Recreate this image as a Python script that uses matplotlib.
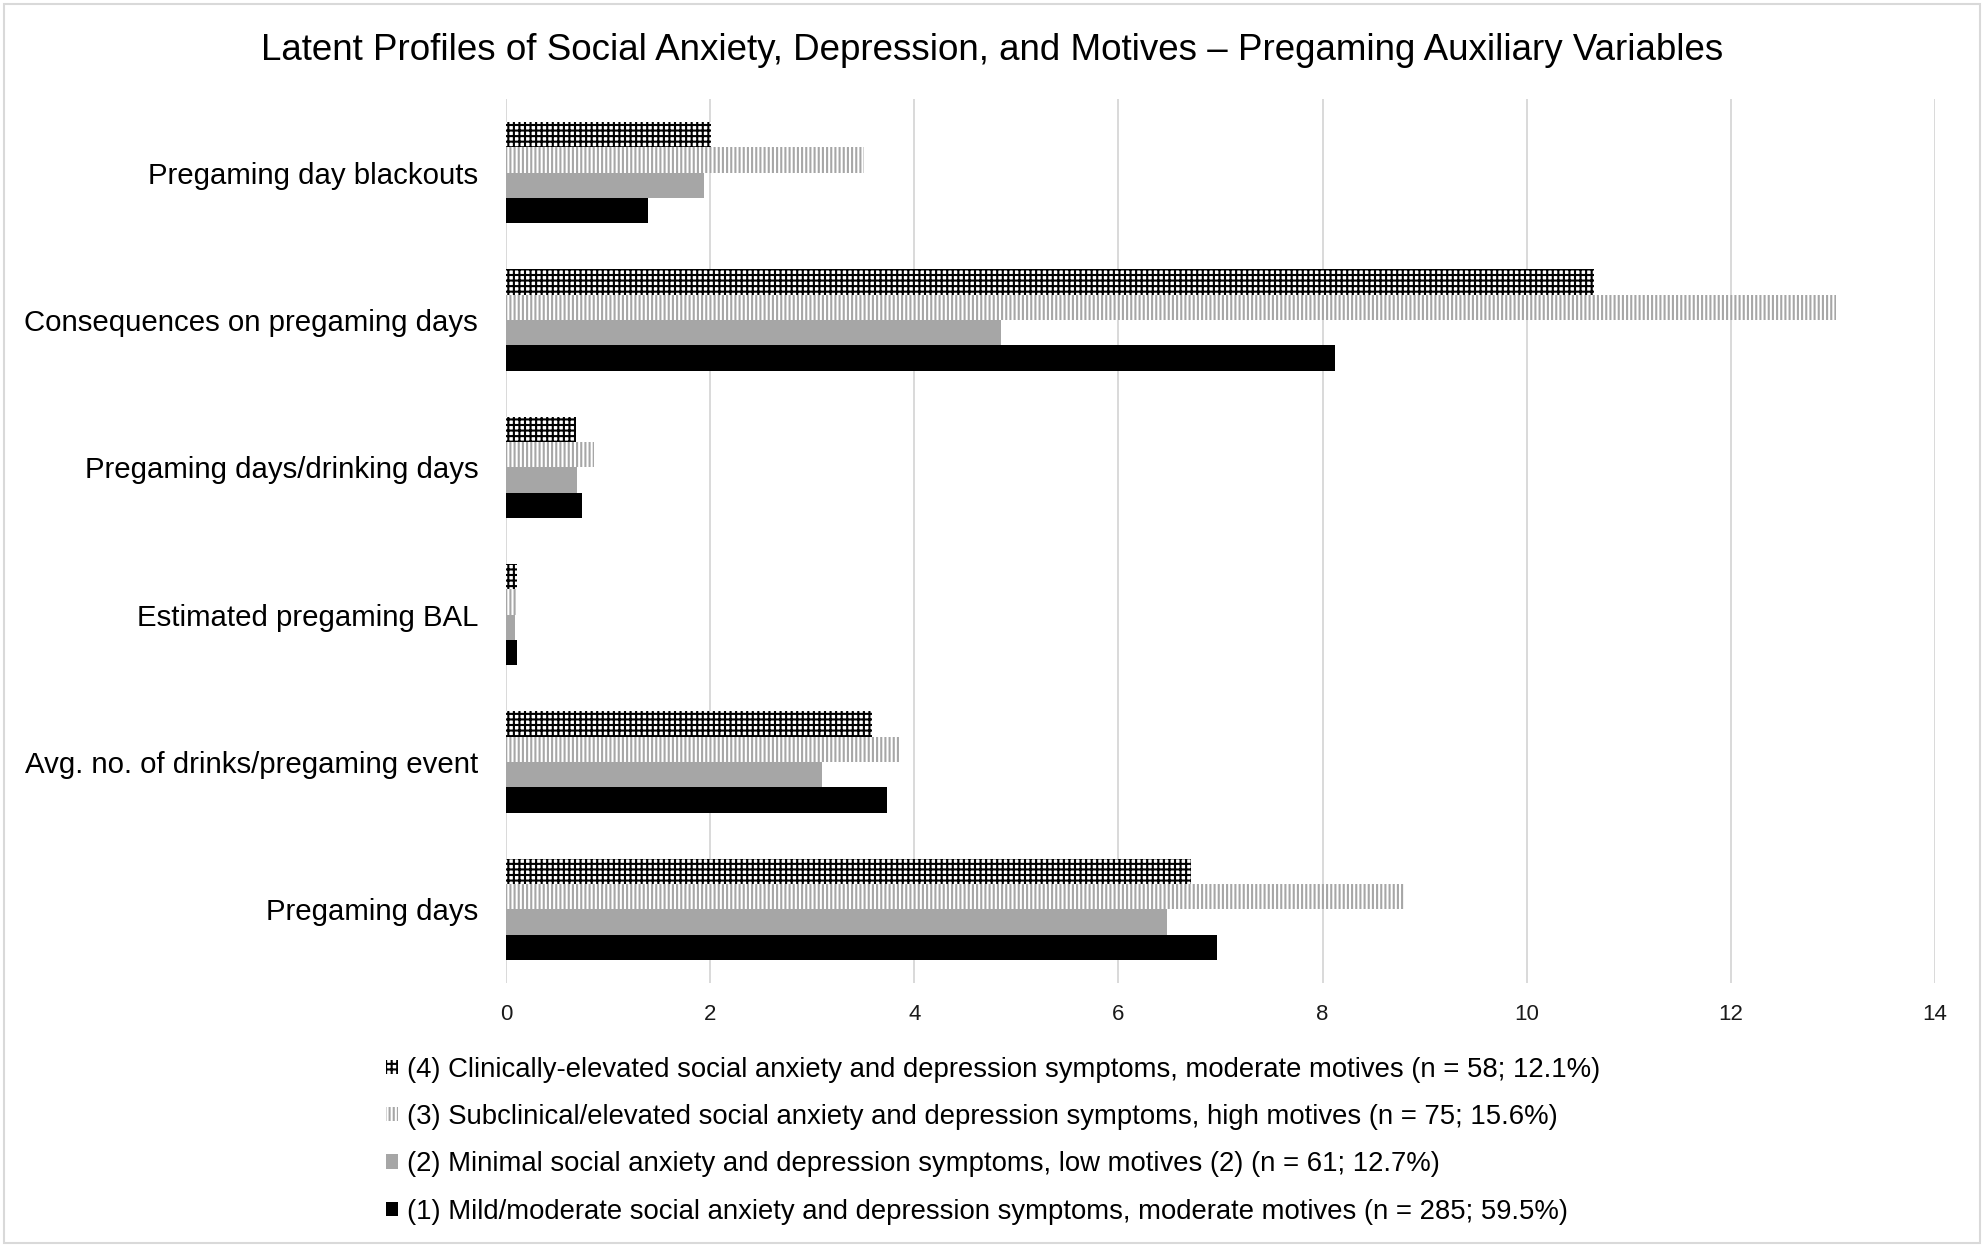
import numpy as np
import matplotlib
matplotlib.use("Agg")
import matplotlib.pyplot as plt
from matplotlib.patches import Rectangle

# categories, top to bottom as in the chart
categories = ["Pregaming day blackouts", "Consequences on pregaming days",
              "Pregaming days/drinking days", "Estimated pregaming BAL",
              "Avg. no. of drinks/pregaming event", "Pregaming days"]

# one list per latent profile, same order as categories
profile4 = [2.01, 10.66, 0.69, 0.11, 3.59, 6.71]
profile3 = [3.51, 13.03, 0.86, 0.10, 3.86, 8.81]
profile2 = [1.94, 4.85, 0.70, 0.085, 3.10, 6.48]
profile1 = [1.39, 8.12, 0.74, 0.11, 3.73, 6.97]

labels = [
    "(4) Clinically-elevated social anxiety and depression symptoms, moderate motives (n = 58; 12.1%)",
    "(3) Subclinical/elevated social anxiety and depression symptoms, high motives (n = 75; 15.6%)",
    "(2) Minimal social anxiety and depression symptoms, low motives (2) (n = 61; 12.7%)",
    "(1) Mild/moderate social anxiety and depression symptoms, moderate motives (n = 285; 59.5%)",
]
xticks = [0, 2, 4, 6, 8, 10, 12, 14]

plt.rcParams['font.family'] = ['Liberation Sans', 'DejaVu Sans']
plt.rcParams['hatch.linewidth'] = 1.5

W, H = 1984, 1247
fig = plt.figure(figsize=(W / 100, H / 100), dpi=100)
ax = fig.add_axes([506 / W, 1 - 983 / H, (1935 - 506) / W, (983 - 99) / H])

y = np.arange(len(categories))
h = 0.1714
styles = [
    dict(facecolor='white', edgecolor='black', hatch='+++'),
    dict(facecolor='white', edgecolor='#a6a6a6', hatch='||||'),
    dict(facecolor='#a6a6a6', edgecolor='#a6a6a6'),
    dict(facecolor='black', edgecolor='black'),
]
series = [profile4, profile3, profile2, profile1]
handles = []
for i, (vals, st) in enumerate(zip(series, styles)):
    b = ax.barh(y + (i - 1.5) * h, vals, height=h, linewidth=0, zorder=3, **st)
    handles.append(b)

ax.set_ylim(len(categories) - 0.5, -0.5)
ax.set_xlim(0, 14)
ax.set_xticks(xticks)
ax.set_xticklabels([str(t) for t in xticks])
ax.set_yticks(y)
ax.set_yticklabels(categories)
ax.tick_params(axis='x', length=0, pad=15, labelsize=16, labelcolor='#1a1a1a')
ax.tick_params(axis='y', length=0, pad=20, labelsize=21.2, labelcolor='black')
ax.grid(axis='x', color='#d9d9d9', linewidth=1.4, zorder=0)
ax.set_axisbelow(True)
for s in ax.spines.values():
    s.set_visible(False)

fig.text(0.5, 1 - 50 / H,
         "Latent Profiles of Social Anxiety, Depression, and Motives \u2013 Pregaming Auxiliary Variables",
         ha='center', va='center', fontsize=26.5)

leg = fig.legend(handles, labels, loc='upper left',
                 bbox_to_anchor=(386 / W, 1 - 1057 / H),
                 frameon=False, fontsize=19.8, handlelength=0.42, handleheight=0.42,
                 handletextpad=0.35, labelspacing=0.77, borderpad=0, borderaxespad=0)

fig.patches.append(Rectangle((4 / W, 4 / H), (W - 8) / W, (H - 8) / H,
                             transform=fig.transFigure, fill=False,
                             edgecolor='#d9d9d9', linewidth=1.5))

fig.savefig("out.png", dpi=100)
